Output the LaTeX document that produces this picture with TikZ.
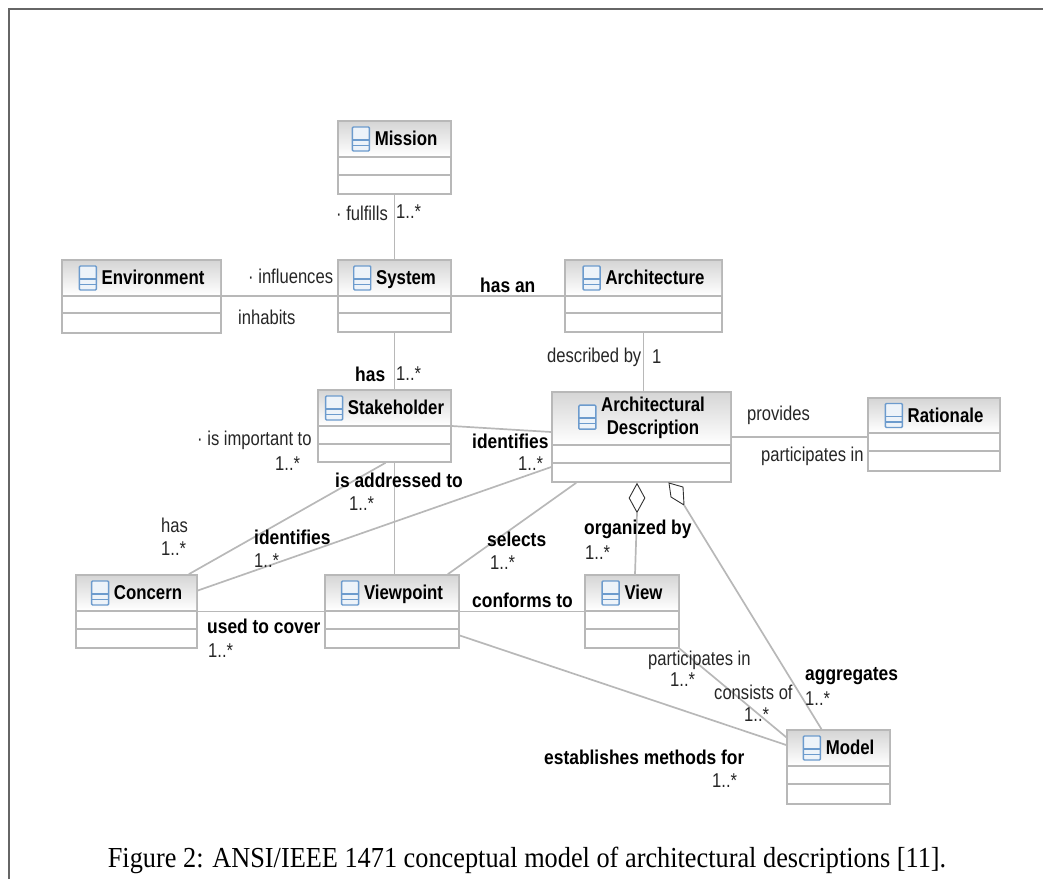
\documentclass[tikz,border=0pt]{standalone}
\usepackage{fontspec}
\setmainfont[FakeStretch=0.907]{Liberation Serif}
\newfontfamily\lblfont[FakeStretch=0.83]{Liberation Sans}
\newfontfamily\boldlblfont[FakeStretch=0.87]{Liberation Sans Bold}
\newfontfamily\titlefont[FakeStretch=0.84]{Liberation Sans Bold}
\usetikzlibrary{calc,shapes.geometric}
\definecolor{boxline}{gray}{0.72}
\definecolor{iconblue}{RGB}{108,155,205}
\tikzstyle{umlbox}=[rectangle, draw=boxline, fill=white, line width=1.6pt, inner sep=0pt]
\tikzstyle{lbl}=[anchor=west, inner sep=0pt, text=black!85, font=\lblfont\fontsize{20}{22}\selectfont]
\tikzstyle{blbl}=[lbl, text=black, font=\boldlblfont\fontsize{20}{22}\selectfont]
\tikzstyle{title}=[inner sep=0pt, align=center, text=black, font=\titlefont\fontsize{20}{23}\selectfont]
\newcommand{\classicon}{\tikz[baseline=5.5pt, x=1pt, y=1pt]{
  \draw[iconblue, line width=1.4pt, fill=iconblue!12, rounded corners=1pt] (0,0) rectangle (17,24);
  \draw[iconblue, line width=1.4pt] (0,5.5) -- (17,5.5) (0,11) -- (17,11);}}
% name, left, top, right, bottom, header and second line, title
\newcommand{\umlclass}[8]{
  \node[umlbox, minimum width=#4pt-#2pt, minimum height=#5pt-#3pt] (#1) at ({(#2+#4)/2}, {(#3+#5)/2}) {};
  \shade[top color=black!16, bottom color=white] (#2+1,#3+1) rectangle (#4-1,#6-1);
  \draw[boxline, line width=1.6pt] (#2,#6) -- (#4,#6) (#2,#7) -- (#4,#7);
  \node[title] (#1title) at ({(#2+#4)/2}, {(#3+#6)/2}) {#8};
}
\begin{document}
\begin{tikzpicture}[x=1pt, y=-1pt
    ,every edge/.style={draw=boxline, line width=1.7pt}
]
\useasboundingbox (0,0) rectangle (1043,879);
\coordinate (frametl) at (9,9);
\draw[black!60, line width=1.2pt] (9,879) -- (frametl) -- (1043,9);

\umlclass{mission}{338}{121}{451}{194}{157}{175}{\classicon\ Mission}
\umlclass{system}{338}{260}{451}{332}{296}{313}{\classicon\ System}
\umlclass{environment}{62}{260}{221}{333}{296}{313}{\classicon\ Environment}
\umlclass{architecture}{565}{260}{722}{332}{296}{313}{\classicon\ Architecture}
\umlclass{stakeholder}{318}{390}{451}{462}{426}{444}{\classicon\ Stakeholder}
\umlclass{archdesc}{552}{392}{731}{482}{445}{463}{\classicon\ \begin{tabular}{@{}c@{}}Architectural\\[0pt]Description\end{tabular}}
\umlclass{rationale}{868}{398}{1000}{471}{433}{451}{\classicon\ Rationale}
\umlclass{concern}{76}{575}{197}{648}{611}{629}{\classicon\ Concern}
\umlclass{viewpoint}{325}{575}{459}{648}{611}{629}{\classicon\ Viewpoint}
\umlclass{view}{585}{575}{679}{648}{611}{629}{\classicon\ View}
\umlclass{model}{787}{730}{890}{804}{766}{784}{\classicon\ Model}

\node[diamond, draw=black!80, fill=white, line width=0.9pt, inner sep=0pt, minimum width=16pt, minimum height=29pt] (orgdiamond) at (637,498) {};
\coordinate (agga) at (669,483);
\coordinate (aggb) at (683,487);
\coordinate (aggc) at (684,505);
\coordinate (aggd) at (671,497);
\draw[black!80, line width=0.9pt, fill=white] (agga) -- (aggb) -- (aggc) -- (aggd) -- cycle;

\path
(mission.south -| system) edge (system.north)
(environment.east |- system.center) edge (system.west)
(system.east) edge (architecture.west)
(system.south) edge (system.south |- stakeholder.north)
(architecture.south) edge (architecture.south |- archdesc.north)
(stakeholder.east) edge ([yshift=5pt]archdesc.west)
(archdesc.east) edge (archdesc.east -| rationale.west)
(stakeholder.south -| system.south) edge (system.south |- viewpoint.north)
([xshift=1pt]stakeholder.south) edge ([xshift=-9pt]concern.north east)
([yshift=-30pt]archdesc.west) edge ([yshift=21pt]concern.east)
([xshift=25pt]archdesc.south west) edge ([xshift=-12pt]viewpoint.north east)
(orgdiamond.south) edge ([xshift=3pt]view.north)
(aggc) edge ([xshift=-17pt]model.north)
(viewpoint.east) edge (view.west)
(concern.east) edge (viewpoint.west)
(view.south east) edge ([yshift=-8pt]model.north west)
([yshift=-24pt]viewpoint.east) edge ([yshift=22pt]model.west)
;

\node[lbl] (fulfills) at (336,213) {· fulfills};
\node[lbl] (fulfillsm) at (396,212) {1..*};
\node[lbl] (influences) at (248,276) {· influences};
\node[lbl] (inhabits) at (238,317) {inhabits};
\node[blbl] (hasan) at (480,285) {has an};
\node[blbl] (hassys) at (355,374) {has};
\node[lbl] (hassysm) at (396,374) {1..*};
\node[lbl] (describedby) at (547,357) {described by};
\node[lbl] (describedm) at (652,357) {1};
\node[lbl] (provides) at (747,415) {provides};
\node[lbl] (partrat) at (761,456) {participates in};
\node[lbl] (important) at (197,440) {· is important to};
\node[lbl] (importantm) at (275,464) {1..*};
\node[blbl] (identa) at (472,441) {identifies};
\node[lbl] (identam) at (518,464) {1..*};
\node[blbl] (addressed) at (335,480) {is addressed to};
\node[lbl] (addressedm) at (349,504) {1..*};
\node[lbl] (hascon) at (161,525) {has};
\node[lbl] (hasconm) at (161,549) {1..*};
\node[blbl] (identb) at (254,537) {identifies};
\node[lbl] (identbm) at (254,561) {1..*};
\node[blbl] (selects) at (487,539) {selects};
\node[lbl] (selectsm) at (490,563) {1..*};
\node[blbl] (organized) at (584,529) {organized by};
\node[lbl] (organizedm) at (585,553) {1..*};
\node[blbl] (conforms) at (472,600) {conforms to};
\node[blbl] (usedto) at (207,626) {used to cover};
\node[lbl] (usedtom) at (208,651) {1..*};
\node[lbl] (partview) at (648,660) {participates in};
\node[lbl] (partviewm) at (670,680) {1..*};
\node[lbl] (consists) at (714,692) {consists of};
\node[lbl] (consistsm) at (744,715) {1..*};
\node[blbl] (aggregates) at (805,676) {aggregates};
\node[lbl] (aggregatesm) at (805,699) {1..*};
\node[blbl] (establishes) at (544,757) {establishes methods for};
\node[lbl] (establishesm) at (712,781) {1..*};

\node[inner sep=0pt, text=black, font=\fontsize{29}{31}\selectfont] (caption) at (527,860) {Figure 2: ANSI/IEEE 1471 conceptual model of architectural descriptions [11].};
\end{tikzpicture}
\end{document}
